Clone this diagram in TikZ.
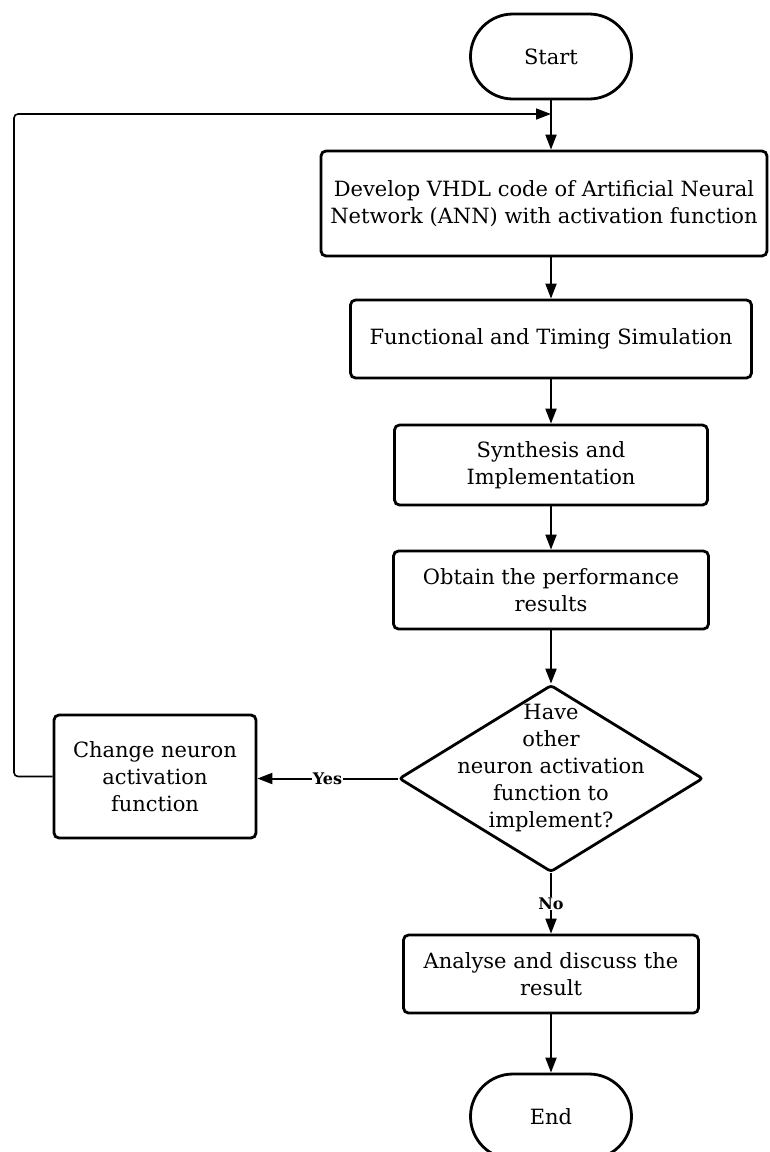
\documentclass[tikz,border=0pt]{standalone}
\usepackage{fontspec}
\setmainfont{DejaVu Serif}
\usetikzlibrary{arrows.meta,shapes.misc,shapes.geometric}
\newcommand\boxfont{\fontsize{21}{27}\selectfont}
\newcommand\lblfont{\fontsize{16}{18}\selectfont\bfseries}
\begin{document}
\begin{tikzpicture}[x=1pt,y=-1pt,
  procbox/.style={draw, line width=2.8pt, rounded corners=5pt, align=center, inner sep=0pt, font=\boxfont},
  term/.style={draw, line width=2.8pt, rounded rectangle, inner sep=0pt, font=\boxfont, minimum width=161pt, minimum height=85pt},
  decis/.style={draw, line width=2.8pt, diamond, inner sep=0pt, rounded corners=3pt},
  arr/.style={line width=2pt, -{Triangle[length=15pt,width=11pt]}},
  fb/.style={line width=1.6pt, rounded corners=4pt, -{Triangle[length=15pt,width=11pt]}},
  lbl/.style={fill=white, inner sep=1pt, font=\lblfont}]
\useasboundingbox (0,0) rectangle (769,1152);
\clip (0,0) rectangle (769,1152);
\node[term] (start) at (551,56.5) {Start};
\node[procbox, minimum width=446pt, minimum height=105pt] (box1) at (544,203.5) {Develop VHDL code of Artificial Neural\\Network (ANN) with activation function};
\node[procbox, minimum width=401pt, minimum height=78pt] (box2) at (551,339) {Functional and Timing Simulation};
\node[procbox, minimum width=313pt, minimum height=80pt] (box3) at (551,465) {Synthesis and\\Implementation};
\node[procbox, minimum width=315pt, minimum height=78pt] (box4) at (551,590) {Obtain the performance\\results};
\node[decis, minimum width=304pt, minimum height=187pt] (dec) at (551,778.5) {};
\node[align=center, font=\boxfont, inner sep=0pt] (dectext) at (551,768) {Have\\other\\neuron activation\\function to\\implement?};
\node[procbox, minimum width=202pt, minimum height=123pt] (change) at (155,776.5) {Change neuron\\activation\\function};
\node[procbox, minimum width=295pt, minimum height=78pt] (box5) at (551,974) {Analyse and discuss the\\result};
\node[term] (end) at (551,1116.5) {End};
\coordinate (join) at (551,114);
\coordinate (fbx) at (14,114);
\draw[arr] (start.south) -- (box1.north -| start.south);
\draw[arr] (box1.south -| start.south) -- (box2.north);
\draw[arr] (box2.south) -- (box3.north);
\draw[arr] (box3.south) -- (box4.north);
\draw[arr] (box4.south) -- (dec.north);
\draw[arr] (dec.west) -- node[lbl] (yes) {Yes} (dec.west -| change.east);
\draw[arr] (dec.south) -- node[lbl] (no) {No} (box5.north);
\draw[arr] (box5.south) -- (end.north);
\draw[fb] (change.west) -- (change.west -| fbx) -- (fbx) -- (join);
\end{tikzpicture}
\end{document}
